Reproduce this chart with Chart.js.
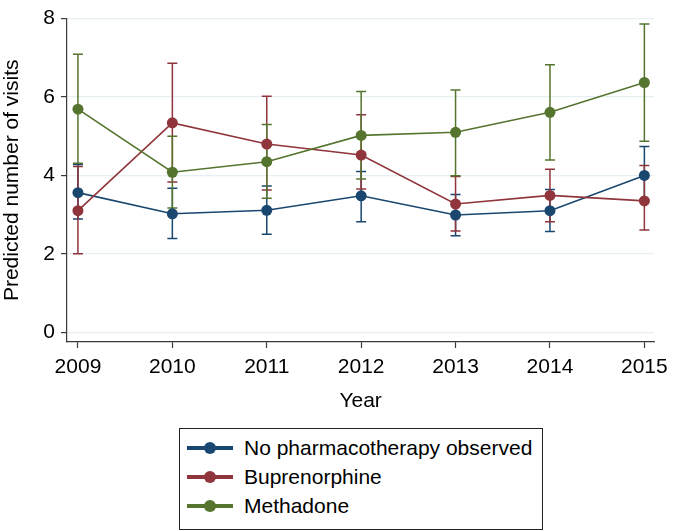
<!DOCTYPE html>
<html>
<head>
<meta charset="utf-8">
<script src="https://cdn.jsdelivr.net/npm/chart.js@4.4.0/dist/chart.umd.min.js"></script>
<style>
  body { margin: 0; background: #fff; }
  #wrap { position: relative; width: 675px; height: 531px; font-family: "Liberation Sans", Arial, sans-serif; }
  #plot { position: absolute; left: 0; top: 0; width: 675px; height: 414px; }
  #legend {
    position: absolute; left: 179px; top: 428px; width: 364px; height: 102px;
    box-sizing: border-box; border: 1.5px solid #222; padding-top: 4px;
  }
  .row { height: 29.3px; display: flex; align-items: center; font-size: 21px; color: #000; }
  .sym { position: relative; width: 46px; height: 12px; margin-left: 7px; margin-right: 11px; }
  .sym .ln { position: absolute; left: 0; right: 0; top: 4px; height: 4px; }
  .sym .dot { position: absolute; left: 17px; top: 0; width: 12px; height: 12px; border-radius: 50%; }
</style>
</head>
<body>
<div id="wrap">
  <div id="plot"><canvas id="visitsChart"></canvas></div>
  <div id="legend"></div>
</div>
<script>
const years = [2009, 2010, 2011, 2012, 2013, 2014, 2015];
const yTicks = [0, 2, 4, 6, 8];

// predicted visits and 95% CI bounds
const noPharmaVals = [3.56, 3.02, 3.11, 3.48, 2.99, 3.10, 4.00];
const noPharmaLow  = [2.89, 2.39, 2.50, 2.82, 2.46, 2.57, 3.38];
const noPharmaHigh = [4.28, 3.67, 3.73, 4.10, 3.51, 3.64, 4.74];

const bupVals = [3.10, 5.34, 4.80, 4.52, 3.27, 3.49, 3.35];
const bupLow  = [2.00, 3.83, 3.63, 3.65, 2.58, 2.82, 2.61];
const bupHigh = [4.23, 6.86, 6.02, 5.55, 3.97, 4.16, 4.25];

const methVals = [5.69, 4.08, 4.35, 5.02, 5.10, 5.61, 6.37];
const methLow  = [4.31, 3.17, 3.42, 3.91, 3.99, 4.39, 4.87];
const methHigh = [7.09, 5.00, 5.30, 6.14, 6.18, 6.82, 7.86];

const labels = ['No pharmacotherapy observed', 'Buprenorphine', 'Methadone'];
const colors = ['#1a476f', '#90353b', '#55752f'];

function pts(vals) {
    return vals.map(function (v, i) { return { x: years[i], y: v }; });
}

const ciLow = [noPharmaLow, bupLow, methLow];
const ciHigh = [noPharmaHigh, bupHigh, methHigh];

// draws the CI whiskers through the chart's own scales
const errorBars = {
    id: 'errorBars',
    beforeDatasetsDraw: function (chart) {
        const ctx = chart.ctx;
        const xs = chart.scales.x, ys = chart.scales.y;
        ctx.save();
        chart.data.datasets.forEach(function (ds, d) {
            ctx.strokeStyle = ds.borderColor;
            ctx.lineWidth = 1.5;
            years.forEach(function (yr, i) {
                const px = xs.getPixelForValue(yr);
                const lo = ys.getPixelForValue(ciLow[d][i]);
                const hi = ys.getPixelForValue(ciHigh[d][i]);
                ctx.beginPath();
                ctx.moveTo(px, lo); ctx.lineTo(px, hi);
                ctx.moveTo(px - 5, lo); ctx.lineTo(px + 5, lo);
                ctx.moveTo(px - 5, hi); ctx.lineTo(px + 5, hi);
                ctx.stroke();
            });
        });
        ctx.restore();
    }
};

const font = { family: '"Liberation Sans", Arial, sans-serif', size: 21 };
const axisColor = '#3a3a3a';

const canvas = document.getElementById('visitsChart');
const chart = new Chart(canvas.getContext('2d'), {
    type: 'line',
    data: {
        datasets: [noPharmaVals, bupVals, methVals].map(function (vals, i) {
            return {
                label: labels[i],
                data: pts(vals),
                borderColor: colors[i],
                backgroundColor: colors[i],
                borderWidth: 1.6,
                pointRadius: 5.5,
                pointBorderWidth: 0,
                pointHoverRadius: 5.5,
                tension: 0,
                order: 3 - i
            };
        })
    },
    options: {
        responsive: true,
        maintainAspectRatio: false,
        animation: false,
        layout: { padding: { top: 13, right: 16, left: 0, bottom: 0 } },
        plugins: {
            legend: { display: false },
            tooltip: { enabled: false }
        },
        scales: {
            x: {
                type: 'linear',
                min: 2008.884,
                max: 2015.105,
                afterBuildTicks: function (scale) {
                    scale.ticks = years.map(function (v) { return { value: v }; });
                },
                ticks: {
                    font: font,
                    color: '#000',
                    padding: 7,
                    maxRotation: 0,
                    callback: function (v) { return String(v); }
                },
                grid: { drawOnChartArea: false, drawTicks: true, tickLength: 6, tickColor: axisColor, tickWidth: 1.2 },
                border: { display: true, color: axisColor, width: 1.2 },
                title: { display: true, text: 'Year', font: font, color: '#000', padding: 0 },
                afterFit: function (scale) { scale.height = 72; }
            },
            y: {
                min: -0.25,
                max: 8,
                afterBuildTicks: function (scale) {
                    scale.ticks = yTicks.map(function (v) { return { value: v }; });
                },
                ticks: { font: font, color: '#000', padding: 6 },
                grid: {
                    color: function (c) { return c.tick && c.tick.value === 0 ? '#ececec' : '#e6eff2'; },
                    lineWidth: 1.2,
                    tickLength: 6,
                    tickColor: axisColor,
                    tickWidth: 1.2
                },
                border: { display: true, color: axisColor, width: 1.2 },
                title: { display: true, text: 'Predicted number of visits', font: font, color: '#000', padding: 0 },
                afterFit: function (scale) { scale.width = 67; }
            }
        }
    },
    plugins: [errorBars]
});

// legend box built from the chart datasets
const legendEl = document.getElementById('legend');
chart.data.datasets.forEach(function (ds) {
    const row = document.createElement('div');
    row.className = 'row';
    row.innerHTML = '<span class="sym"><span class="ln" style="background:' + ds.borderColor +
        '"></span><span class="dot" style="background:' + ds.borderColor + '"></span></span>' +
        '<span>' + ds.label + '</span>';
    legendEl.appendChild(row);
});
</script>
</body>
</html>
